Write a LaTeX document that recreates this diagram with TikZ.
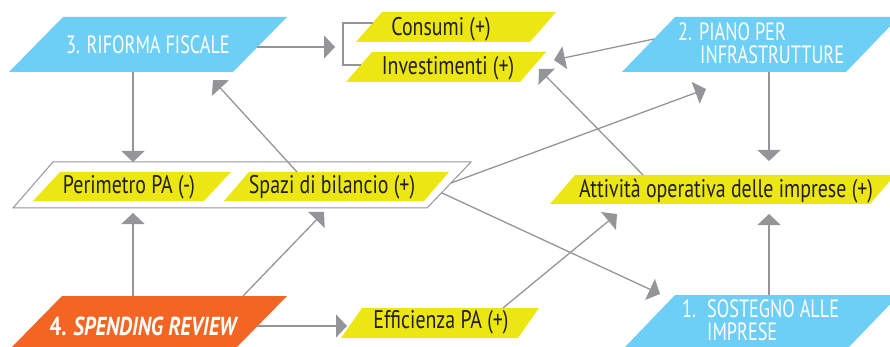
\documentclass[tikz,border=0pt]{standalone}
\usepackage{fontspec}
\setmainfont[FakeStretch=0.78]{PT Sans}
\newfontfamily\hdfont[FakeStretch=0.73]{PT Sans}
\newfontfamily\srfont[FakeStretch=0.8]{PT Sans}
\usetikzlibrary{arrows.meta}
\definecolor{cblue}{HTML}{6DCFF6}
\definecolor{cyel}{HTML}{ECE712}
\definecolor{corange}{HTML}{F26522}
\definecolor{cgray}{HTML}{939598}
\definecolor{ctext}{HTML}{231F20}
\newcommand\pgm[6]{\fill[#1] (#2,#3) -- (#2+#6,#3) -- (#4+#6,#5) -- (#4,#5) -- cycle;}
\begin{document}
\begin{tikzpicture}[x=1pt,y=-1pt,
  conn/.style={draw=cgray,line width=1.3pt,-{Triangle[length=11pt,width=23pt]}},
  plain/.style={draw=cgray,line width=1.2pt},
  ylab/.style={text=ctext,font=\fontsize{25.5}{25}\selectfont,inner sep=0pt,anchor=base},
  blab/.style={text=white,font=\hdfont\fontsize{25}{25}\selectfont,inner sep=0pt,anchor=base},
]
\useasboundingbox (0,0) rectangle (890,347);
% boxes
\pgm{cblue}{63}{17}{9}{72}{224}
\pgm{cblue}{675}{17}{622}{72}{224}
\pgm{cblue}{675}{295}{625}{347}{224}
\pgm{corange}{62}{296}{12}{347}{225}
\pgm{cyel}{382}{12}{356}{42}{174}
\pgm{cyel}{372}{52}{346}{82}{174}
\pgm{cyel}{575}{175}{550}{204}{320}
\pgm{cyel}{362}{308}{341}{338}{177}
\draw[cgray,line width=1pt,fill=white] (53,162) -- (471,162) -- (427,208) -- (13,208) -- cycle;
\pgm{cyel}{60}{172}{33}{201}{171}
\pgm{cyel}{249}{172}{224}{201}{200}
% texts
\node[blab] (rf) at (148,54) {3. RIFORMA FISCALE};
\node[blab,anchor=base west] (pi1) at (678,41) {2.};
\node[blab,anchor=base west] (pi2) at (699,41) {PIANO PER};
\node[blab,anchor=base west] (pi3) at (700,64) {INFRASTRUTTURE};
\node[blab,anchor=base west] (so1) at (682,317) {1.};
\node[blab,anchor=base west] (so2) at (707,317) {SOSTEGNO ALLE};
\node[blab,anchor=base west] (so3) at (707,340) {IMPRESE};
\node[blab,font=\srfont\fontsize{26}{26}\selectfont] (sr) at (143,335) {\bfseries 4. \itshape SPENDING REVIEW};
\node[ylab] (co) at (441,36) {Consumi (+)};
\node[ylab] (in) at (448,75) {Investimenti (+)};
\node[ylab] (pe) at (129,194) {Perimetro PA (-)};
\node[ylab] (sp) at (332,194) {Spazi di bilancio (+)};
\node[ylab] (at) at (726,197) {Attività operativa delle imprese (+)};
\node[ylab] (ef) at (441,328) {Efficienza PA (+)};
% anchor coordinates
\coordinate (rfE) at (257,47);
\coordinate (brT) at (335,47);
\coordinate (rfS) at (133,72);
\coordinate (frN) at (133,162);
\coordinate (spN) at (297,172);
\coordinate (rfSE) at (213,80);
\coordinate (srN) at (133,296);
\coordinate (frS) at (133,213);
\coordinate (srNE) at (243,296);
\coordinate (spS) at (324,212);
\coordinate (srE) at (257,326);
\coordinate (efW) at (347,326);
\coordinate (efN) at (503,308);
\coordinate (atSW) at (617,214);
\coordinate (frE1) at (451,183);
\coordinate (piSW) at (706,89);
\coordinate (frE2) at (442,193);
\coordinate (soNW) at (660,294);
\coordinate (atN) at (643,175);
\coordinate (inE) at (539,69);
\coordinate (piW) at (654,39);
\coordinate (inNE) at (554,60);
\coordinate (piS) at (769,72);
\coordinate (atN2) at (769,161);
\coordinate (soN) at (769,295);
\coordinate (atS) at (769,214);
\coordinate (b1) at (373,23);
\coordinate (b2) at (361,65);
% connectors
\draw[plain] (b1) -| (343,44) |- (b2);
\draw[conn] (rfE) -- (brT);
\draw[conn] (rfS) -- (frN);
\draw[conn] (spN) -- (rfSE);
\draw[conn] (srN) -- (frS);
\draw[conn] (srNE) -- (spS);
\draw[conn] (srE) -- (efW);
\draw[conn] (efN) -- (atSW);
\draw[conn] (frE1) -- (piSW);
\draw[conn] (frE2) -- (soNW);
\draw[conn] (atN) -- (inE);
\draw[conn] (piW) -- (inNE);
\draw[conn] (piS) -- (atN2);
\draw[conn] (soN) -- (atS);
\end{tikzpicture}
\end{document}
